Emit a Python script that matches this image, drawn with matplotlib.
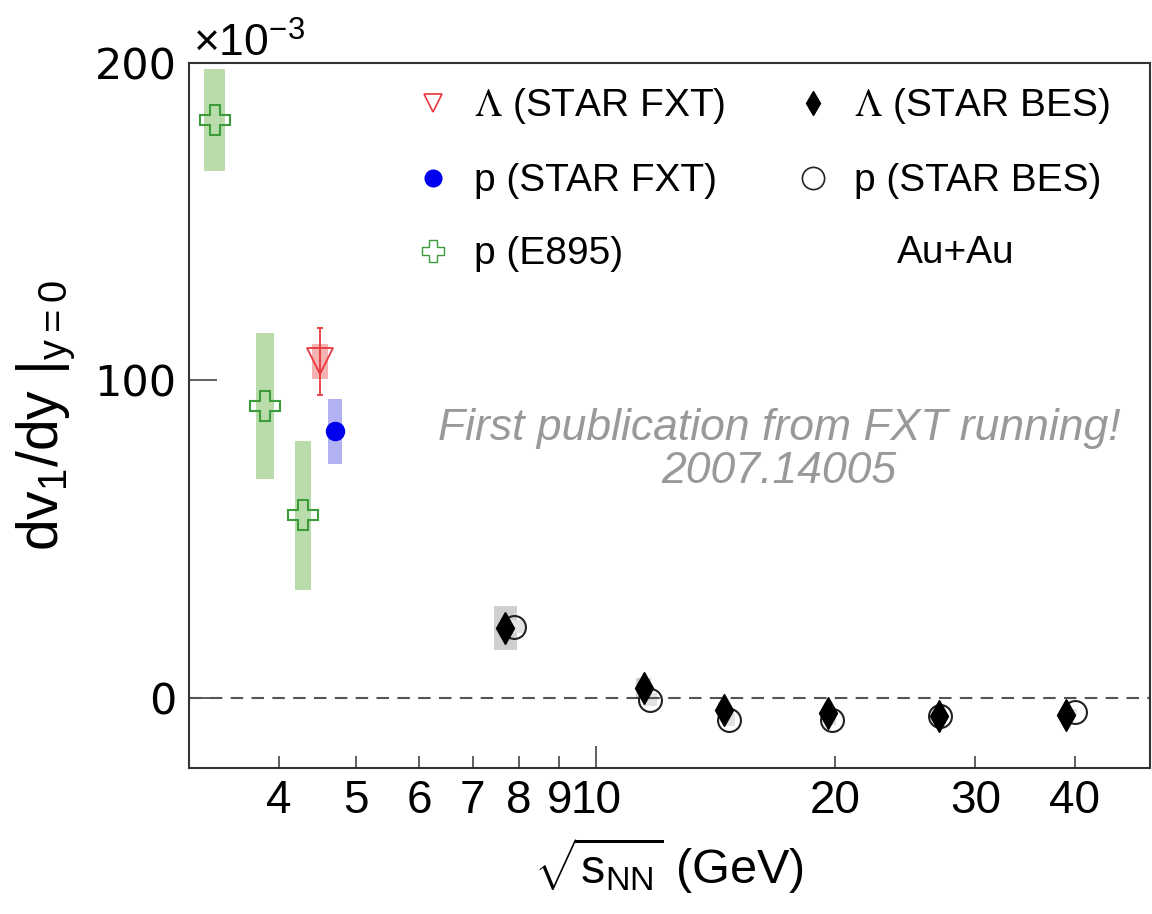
import matplotlib
matplotlib.use("Agg")
import matplotlib.pyplot as plt
from matplotlib.font_manager import FontProperties
from matplotlib.lines import Line2D

plt.rcParams["font.family"] = ["Liberation Sans", "DejaVu Sans"]
plt.rcParams["mathtext.fontset"] = "custom"
plt.rcParams["mathtext.rm"] = "Liberation Sans"
plt.rcParams["mathtext.it"] = "Liberation Sans:italic"
plt.rcParams["mathtext.bf"] = "Liberation Sans:bold"

# dv1/dy at mid-rapidity, in units of 1e-3
e895_x = [3.32, 3.84, 4.29]
e895_y = [182.0, 92.0, 57.5]
e895_sys = [16.0, 23.0, 23.5]

lam_fxt_x = [4.5]
lam_fxt_y = [106.0]
lam_fxt_stat = [10.5]
lam_fxt_sys = [5.5]

p_fxt_x = [4.7]
p_fxt_y = [84.0]
p_fxt_sys = [10.3]

lam_bes_x = [7.7, 11.5, 14.5, 19.6, 27.0, 39.0]
lam_bes_y = [22.1, 3.2, -3.8, -4.7, -5.7, -5.4]
lam_bes_sys = [7.0, 3.0, 2.5, 2.0, 1.5, 1.5]

p_bes_x = [7.9, 11.7, 14.7, 19.8, 27.1, 40.0]
p_bes_y = [22.4, -0.6, -6.9, -6.9, -5.7, -4.4]
p_bes_sys = [2.0, 2.0, 2.0, 1.5, 1.0, 1.0]

x_major = [10]
x_minor = [4, 5, 6, 7, 8, 9, 20, 30, 40]
y_ticks = [0, 100, 200]

GREEN = "#3c9c3c"
GREEN_BAND = "#b9dcaa"
RED = "#e8383d"
RED_BAND = "#f5b3b3"
BLUE = "#0000ee"
BLUE_BAND = "#b2b2f2"
GRAY_BAND = "#cfcfcf"


def sys_boxes(ax, x, y, err, half_width, color):
    bottom = [v - e for v, e in zip(y, err)]
    height = [2 * e for e in err]
    ax.bar(x, height, bottom=bottom, width=2 * half_width, color=color,
           linewidth=0, zorder=1)


def main():
    fig = plt.figure(figsize=(11.52, 9.14), dpi=100)
    ax = fig.add_axes([0.164, 0.160, 0.834, 0.771])
    ax.set_xscale("log")

    sys_boxes(ax, e895_x, e895_y, e895_sys, 0.1, GREEN_BAND)
    sys_boxes(ax, lam_fxt_x, lam_fxt_y, lam_fxt_sys, 0.1, RED_BAND)
    sys_boxes(ax, p_fxt_x, p_fxt_y, p_fxt_sys, 0.1, BLUE_BAND)
    sys_boxes(ax, lam_bes_x, lam_bes_y, lam_bes_sys, 0.25, GRAY_BAND)
    sys_boxes(ax, p_bes_x, p_bes_y, p_bes_sys, 0.25, "#e2e2e2")

    ax.axhline(0, color="#555555", lw=1.5, ls=(0, (6, 4)), zorder=2)

    ax.plot(e895_x, e895_y, ls="none", marker="P", ms=22, mfc="none",
            mec=GREEN, mew=1.5, zorder=3)
    ax.errorbar(lam_fxt_x, lam_fxt_y, yerr=lam_fxt_stat, fmt="v", ms=19,
                mfc="none", mec=RED, mew=1.3, ecolor=RED, elinewidth=1.3,
                capsize=2, capthick=1.3, zorder=3)
    ax.plot(p_fxt_x, p_fxt_y, ls="none", marker="o", ms=13, color=BLUE,
            zorder=3)
    ax.plot(p_bes_x, p_bes_y, ls="none", marker="o", ms=16.5, mfc="none",
            mec="#222222", mew=1.5, zorder=3)
    ax.plot(lam_bes_x, lam_bes_y, ls="none", marker="d", ms=16,
            color="black", zorder=4)

    ax.set_xlim(3.08, 49.7)
    ax.set_ylim(-22, 200)

    ax.set_xticks(x_major, labels=[str(v) for v in x_major])
    ax.set_xticks(x_minor, labels=[str(v) for v in x_minor], minor=True)
    ax.set_yticks(y_ticks, labels=[str(v) for v in y_ticks])
    ax.tick_params(axis="x", which="both", direction="in", top=False,
                   labelsize=33, pad=8, color="#444444", width=1.2)
    ax.tick_params(axis="x", which="major", length=16)
    ax.tick_params(axis="x", which="minor", length=8.5)
    ax.tick_params(axis="y", which="both", direction="in", right=False,
                   length=20, width=1.2, color="#444444", pad=9)
    ax.tick_params(axis="y", which="minor", left=False)
    for label in ax.get_yticklabels():
        label.set_fontfamily("DejaVu Sans")
        label.set_fontsize(31)

    for spine in ax.spines.values():
        spine.set_color("#333333")
        spine.set_linewidth(1.5)

    ax.set_xlabel(r"$\sqrt{\mathrm{s_{NN}}}$ (GeV)", fontsize=35)
    ax.xaxis.set_label_coords(0.5, -0.097)
    ax.set_ylabel(r"$\mathrm{dv_1/dy}\ |_{\mathrm{y=0}}$", fontsize=41)
    ax.yaxis.set_label_coords(-0.117, 0.5)

    fig.text(193 / 1152, 1 - 57 / 914, r"$\times\mathrm{10^{-3}}$",
             fontsize=32, ha="left", va="baseline")

    handles = [
        Line2D([], [], ls="none", marker="v", ms=13, mfc="none", mec=RED, mew=1.2),
        Line2D([], [], ls="none", marker="o", ms=12, color=BLUE),
        Line2D([], [], ls="none", marker="P", ms=16, mfc="none", mec=GREEN, mew=1.0),
        Line2D([], [], ls="none", marker="d", ms=12, color="black"),
        Line2D([], [], ls="none", marker="o", ms=16, mfc="none", mec="#222222", mew=1.2),
    ]
    labels = [
        r"$\Lambda$ (STAR FXT)",
        "p (STAR FXT)",
        "p (E895)",
        r"$\Lambda$ (STAR BES)",
        "p (STAR BES)",
    ]
    prop = FontProperties(family="Liberation Sans", size=28, math_fontfamily="stix")
    ax.legend(handles, labels, ncol=2, loc="upper left",
              bbox_to_anchor=(0.234, 0.967), prop=prop, frameon=False,
              borderpad=0, borderaxespad=0, handlelength=1.0,
              handletextpad=0.55, labelspacing=0.95, columnspacing=1.75)
    ax.text(0.798, 0.731, "Au+Au", transform=ax.transAxes, fontsize=28,
            ha="center", va="center")

    ax.text(0.614, 0.451, "First publication from FXT running!\n2007.14005",
            transform=ax.transAxes, fontsize=32, style="italic",
            color="#999999", ha="center", va="center", linespacing=1.05)

    fig.savefig("out.png", dpi=100)
    plt.close(fig)


if __name__ == "__main__":
    main()
